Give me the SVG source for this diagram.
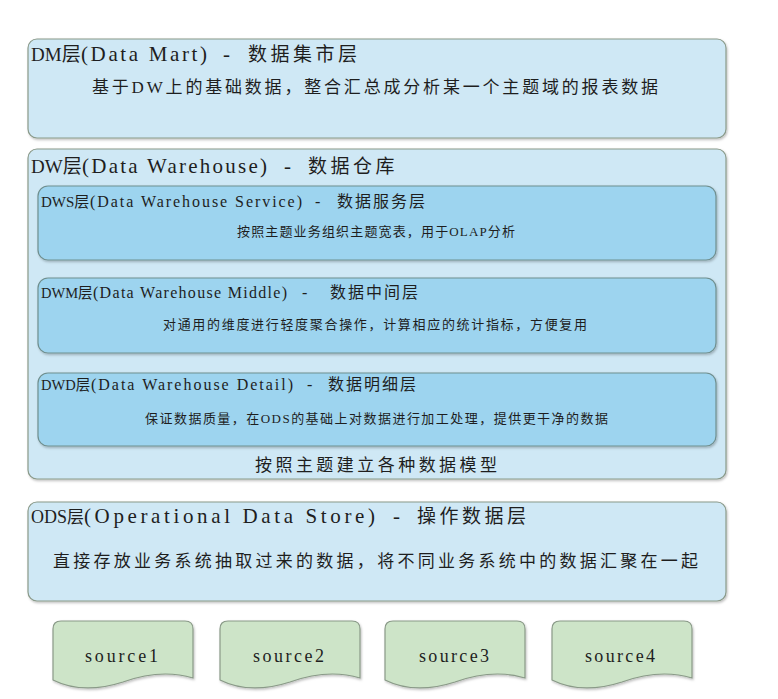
<svg xmlns="http://www.w3.org/2000/svg" xmlns:xlink="http://www.w3.org/1999/xlink" width="778" height="699" viewBox="0 0 778 699">
<defs>
<filter id="sh" x="-5%" y="-5%" width="110%" height="115%">
<feDropShadow dx="1" dy="1.5" stdDeviation="1" flood-color="#000" flood-opacity="0.25"/>
</filter>
<path id="doc" d="M0,8 Q0,0 8,0 H132 Q140,0 140,8 V57 C120,51 95,52 70,61 C45,69 20,69 0,59 Z"/>
</defs>
<style>
.outer{fill:#cfe8f5;stroke:#8a9a8a;stroke-width:1.2;filter:url(#sh)}
.inner{fill:#9dd4ef;stroke:#6f8f8f;stroke-width:1.2;filter:url(#sh)}
.src{fill:#cde4c8;stroke:#8a9a88;stroke-width:1.2;filter:url(#sh)}
text{font-family:"Liberation Serif","Noto Sans CJK SC",serif;fill:#1e1e1e}
.t1{font-size:21px}
.t1 .c{font-size:19px;letter-spacing:3.5px}
.t1 .a{font-size:19px}
.t2{font-size:16px}
.t2 .c{font-size:16px;letter-spacing:2px}
.t2 .a{font-size:15px}
.t2 .a2{font-size:14.5px}
.b1{font-size:17px}
.b2{font-size:13px}
.s{font-size:18px}
</style>
<rect width="778" height="699" fill="#ffffff"/>

<g id="dm">
<rect class="outer" x="28" y="39" width="698" height="99" rx="9"/>
<text class="t1" y="61"><tspan class="a" x="31">DM</tspan><tspan class="a">层</tspan><tspan x="81" textLength="126" lengthAdjust="spacing">(Data Mart)</tspan><tspan x="223">-</tspan><tspan class="c" x="248">数据集市层</tspan></text>
<text class="b1" x="92" y="93" textLength="566" lengthAdjust="spacing">基于DW上的基础数据，整合汇总成分析某一个主题域的报表数据</text>
</g>

<g id="dw">
<rect class="outer" x="28" y="149" width="698" height="330" rx="9"/>
<text class="t1" y="173"><tspan class="a" x="31">DW</tspan><tspan class="a">层</tspan><tspan x="82" textLength="185" lengthAdjust="spacing">(Data Warehouse)</tspan><tspan x="284">-</tspan><tspan class="c" x="308">数据仓库</tspan></text>
<text class="b1" x="255" y="471" textLength="242" lengthAdjust="spacing">按照主题建立各种数据模型</text>
</g>

<g id="dws">
<rect class="inner" x="38" y="186" width="678" height="74" rx="10"/>
<text class="t2" y="207"><tspan class="a" x="41">DWS</tspan><tspan class="a">层</tspan><tspan x="90" textLength="212" lengthAdjust="spacing">(Data Warehouse Service)</tspan><tspan x="315">-</tspan><tspan class="c" x="337">数据服务层</tspan></text>
<text class="b2" x="237" y="236" textLength="278" lengthAdjust="spacing">按照主题业务组织主题宽表，用于OLAP分析</text>
</g>

<g id="dwm">
<rect class="inner" x="38" y="278" width="678" height="75" rx="10"/>
<text class="t2" y="298"><tspan class="a2" x="41">DWM</tspan><tspan class="a2">层</tspan><tspan x="93" textLength="194" lengthAdjust="spacing">(Data Warehouse Middle)</tspan><tspan x="302">-</tspan><tspan class="c" x="330">数据中间层</tspan></text>
<text class="b2" x="163" y="329" textLength="424" lengthAdjust="spacing">对通用的维度进行轻度聚合操作，计算相应的统计指标，方便复用</text>
</g>

<g id="dwd">
<rect class="inner" x="38" y="373" width="678" height="73" rx="10"/>
<text class="t2" y="390"><tspan class="a2" x="41">DWD</tspan><tspan class="a2">层</tspan><tspan x="91" textLength="202" lengthAdjust="spacing">(Data Warehouse Detail)</tspan><tspan x="307">-</tspan><tspan class="c" x="328">数据明细层</tspan></text>
<text class="b2" x="145" y="423" textLength="463" lengthAdjust="spacing">保证数据质量，在ODS的基础上对数据进行加工处理，提供更干净的数据</text>
</g>

<g id="ods">
<rect class="outer" x="28" y="502" width="698" height="99" rx="9"/>
<text class="t1" y="523"><tspan x="31" style="font-size:18px">ODS</tspan><tspan style="font-size:17px">层</tspan><tspan x="84" textLength="291" lengthAdjust="spacing">(Operational Data Store)</tspan><tspan x="393">-</tspan><tspan class="c" x="417">操作数据层</tspan></text>
<text class="b1" x="53" y="567" textLength="645" lengthAdjust="spacing">直接存放业务系统抽取过来的数据，将不同业务系统中的数据汇聚在一起</text>
</g>

<g id="source1">
<use xlink:href="#doc" href="#doc" class="src" x="53" y="621"/>
<text class="s" x="85" y="662" textLength="73" lengthAdjust="spacing">source1</text>
</g>
<g id="source2">
<use xlink:href="#doc" href="#doc" class="src" x="220" y="621"/>
<text class="s" x="253" y="662" textLength="71" lengthAdjust="spacing">source2</text>
</g>
<g id="source3">
<use xlink:href="#doc" href="#doc" class="src" x="385" y="621"/>
<text class="s" x="419" y="662" textLength="70" lengthAdjust="spacing">source3</text>
</g>
<g id="source4">
<use xlink:href="#doc" href="#doc" class="src" x="552" y="621"/>
<text class="s" x="585" y="662" textLength="70" lengthAdjust="spacing">source4</text>
</g>

<g id="connectors"></g>
</svg>
